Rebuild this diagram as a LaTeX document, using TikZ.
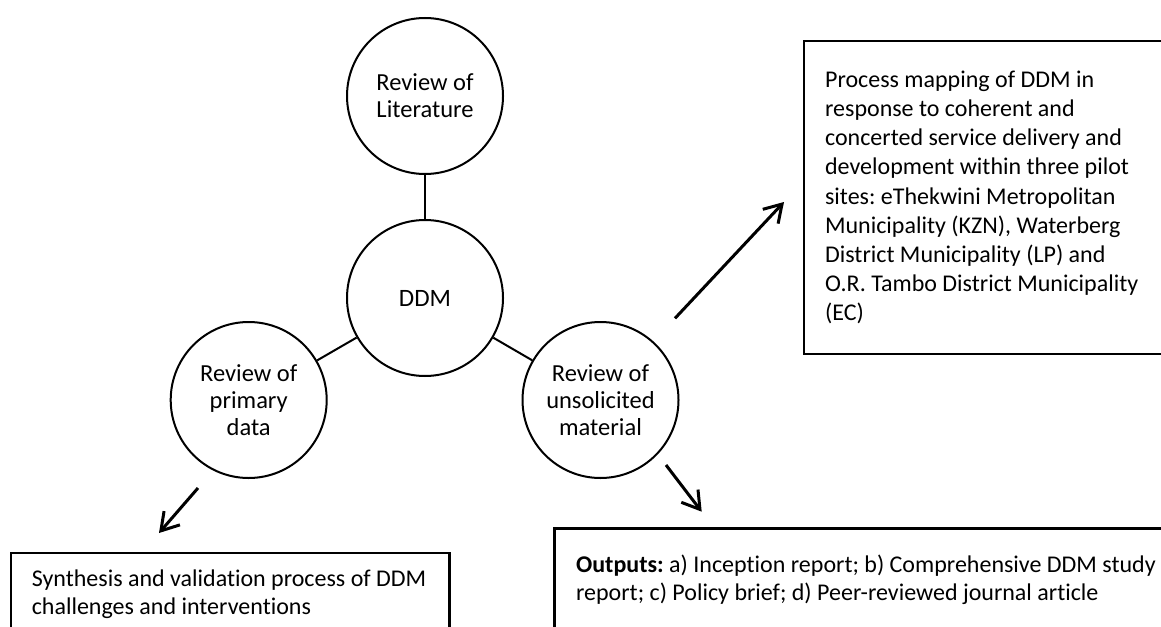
\documentclass[tikz,border=0pt]{standalone}
\usepackage{fontspec}
\setmainfont{Carlito}[Ligatures=NoCommon]
\usepackage{tikz}
\usetikzlibrary{shapes}
\usetikzlibrary{arrows.meta}
\usetikzlibrary{positioning}
\frenchspacing
\tikzstyle{bulle}=[circle,draw,line width=2pt,minimum size=156pt,
        inner sep=0pt,align=center,font=\fontsize{24.5}{27}\selectfont]
\tikzstyle{cadre}=[rectangle,draw,line width=2.2pt,anchor=north west,
        align=flush left,font=\fontsize{24}{28.5}\selectfont]
\tikzstyle{lien}=[line width=2pt]
\tikzstyle{fleche}=[->,>={Straight Barb[length=17pt,width=21pt]},line width=3pt]

\begin{document}
\begin{tikzpicture}[x=1pt,y=-1pt]
\useasboundingbox (0,0) rectangle (1161,626);
\clip (0,0) rectangle (1161,626);
\node[bulle] (lit) at (425,96) {Review of\\Literature};
\node[bulle,font=\fontsize{25}{28}\selectfont] (ddm) at (425,298) {DDM};
\node[bulle] (prim) at (248.7,400) {Review of\\primary\\data};
\node[bulle] (unsol) at (600.5,400) {Review of\\unsolicited\\material};
\node[cadre,font=\fontsize{24}{29.2}\selectfont,inner xsep=21pt,text width=400pt,
  minimum height=313pt] (carto) at (803,40)
  {Process mapping of DDM in\\response to coherent and\\concerted service delivery and\\development within three pilot\\sites: eThekwini Metropolitan\\Municipality (KZN), Waterberg\\District Municipality (LP) and\\O.R. Tambo District Municipality\\(EC)};
\node[cadre,inner xsep=21.7pt,inner ysep=26.5pt,text width=600pt,text depth=70pt] (sorties) at (553.3,527.3)
  {\textbf{Outputs:} a) Inception report; b) Comprehensive DDM study\\report; c) Policy brief; d) Peer-reviewed journal article};
\node[cadre,inner xsep=20.7pt,inner ysep=16.7pt,text width=397pt,text depth=70pt] (synth) at (10,552)
  {\mbox{Synthesis and validation process of DDM}\\challenges and interventions};
\coordinate (d1) at (198,488);
\coordinate (f1) at (159,533);
\coordinate (d2) at (666,465);
\coordinate (f2) at (701.7,511.7);
\coordinate (d3) at (675,318.3);
\coordinate (f3) at (784,202);
%Drawing Edges
\draw[lien] (lit) -- (ddm);
\draw[lien] (ddm) -- (prim);
\draw[lien] (ddm) -- (unsol);
\draw[fleche] (d1) -- (f1);
\draw[fleche] (d2) -- (f2);
\draw[fleche] (d3) -- (f3);
\end{tikzpicture}
\end{document}
